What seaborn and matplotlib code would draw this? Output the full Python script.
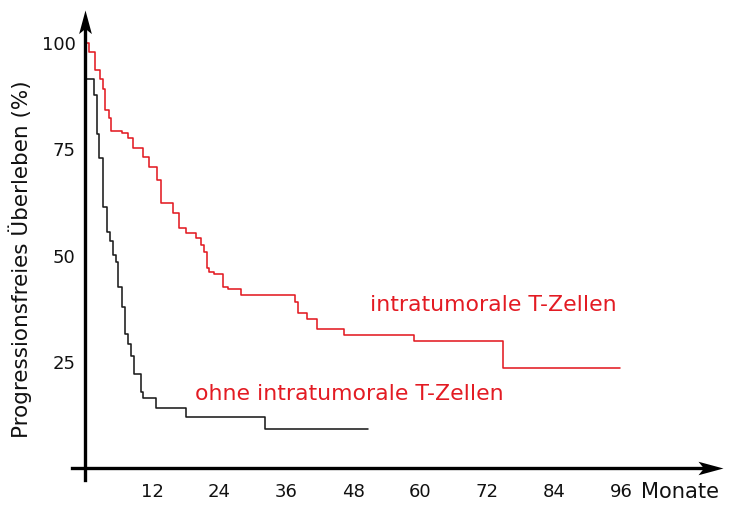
import matplotlib
matplotlib.use("Agg")
import matplotlib.pyplot as plt
import numpy as np
import pandas as pd
import seaborn as sns
from matplotlib.path import Path

# ---- data ----
red_months = [0, 0.55, 1.76, 2.65, 3.14, 3.55, 4.16, 4.63, 6.49, 7.57, 8.57, 10.26,
              11.44, 12.77, 13.48, 15.74, 16.82, 18.02, 19.81, 20.71, 21.30, 21.73,
              22.20, 23.09, 24.60, 25.60, 27.83, 37.56, 38.16, 39.77, 41.46, 46.35,
              58.9, 74.8]
red_survival = [100, 98.0, 93.6, 91.6, 89.1, 84.3, 82.4, 79.3, 78.8, 77.6, 75.3, 73.1,
                70.9, 67.8, 62.3, 60.0, 56.4, 55.3, 54.2, 52.5, 50.8, 47.0,
                46.2, 45.7, 42.7, 42.1, 40.7, 39.1, 36.4, 35.0, 32.7, 31.3,
                29.9, 23.5]
red_end = 95.8

black_months = [0, 0.14, 1.58, 2.06, 2.47, 3.08, 3.91, 4.39, 4.88, 5.47, 5.88, 6.60,
                7.08, 7.67, 8.16, 8.70, 9.90, 10.36, 12.59, 18.02, 32.19]
black_survival = [100, 91.6, 87.9, 78.5, 73.0, 61.5, 55.6, 53.4, 50.1, 48.6, 42.7, 37.8,
                  31.5, 29.2, 26.4, 22.1, 17.8, 16.4, 14.2, 12.1, 9.1]
black_end = 50.65

groups = ["intratumorale T-Zellen", "ohne intratumorale T-Zellen"]
x_ticks = [12, 24, 36, 48, 60, 72, 84, 96]
y_ticks = [25, 50, 75, 100]
x_unit = "Monate"
y_label = "Progressionsfreies Überleben (%)"

RED = "#e31b23"
BLACK = "#1c1c1c"

# ---- build table ----
df = pd.concat([
    pd.DataFrame({"Monate": red_months + [red_end],
                  "PFS": red_survival + [red_survival[-1]],
                  "Gruppe": groups[0]}),
    pd.DataFrame({"Monate": black_months + [black_end],
                  "PFS": black_survival + [black_survival[-1]],
                  "Gruppe": groups[1]}),
], ignore_index=True)

sns.set_style("white")
plt.rcParams["font.family"] = ["DejaVu Sans"]

fig = plt.figure(figsize=(7.31, 5.12), dpi=100)
ax = fig.add_axes([71.7 / 731, 32 / 512, 651.3 / 731, 470 / 512])

sns.lineplot(data=df, x="Monate", y="PFS", hue="Gruppe",
             palette={groups[0]: RED, groups[1]: BLACK},
             drawstyle="steps-post", estimator=None, legend=False,
             linewidth=1.15, ax=ax)

xmin, xmax = -2.47, 114.3
ymin, ymax = -2.82, 107.8
ax.set_xlim(xmin, xmax)
ax.set_ylim(ymin, ymax)

for s in ["top", "right"]:
    ax.spines[s].set_visible(False)
ax.spines["left"].set_position(("data", 0))
ax.spines["bottom"].set_position(("data", 0))
for s in ["left", "bottom"]:
    ax.spines[s].set_linewidth(2.4)
    ax.spines[s].set_color("black")
ax.spines["bottom"].set_bounds(xmin, 111.5)
ax.spines["left"].set_bounds(ymin, 104.5)

ax.set_xticks(x_ticks)
ax.set_yticks(y_ticks)
ax.set_xticklabels([str(t) for t in x_ticks])
ax.set_yticklabels([str(t) for t in y_ticks])
ax.tick_params(axis="both", direction="out", length=5.5, width=1.0,
               color="#333333", labelsize=13, labelcolor="#111111")
ax.tick_params(axis="x", pad=5)
ax.tick_params(axis="y", pad=1.5)
ax.set_xlabel("")
ax.set_ylabel("")

# arrowheads
arrow_r = Path([(0, 0), (-1, 0.27), (-0.78, 0), (-1, -0.27), (0, 0)],
               [Path.MOVETO, Path.LINETO, Path.LINETO, Path.LINETO, Path.CLOSEPOLY])
arrow_u = Path([(0, 0), (0.27, -1), (0, -0.78), (-0.27, -1), (0, 0)],
               [Path.MOVETO, Path.LINETO, Path.LINETO, Path.LINETO, Path.CLOSEPOLY])
ax.plot(1, 0, marker=arrow_r, markersize=36, color="black", mew=0,
        transform=ax.get_yaxis_transform(), clip_on=False)
ax.plot(0, 1, marker=arrow_u, markersize=34, color="black", mew=0,
        transform=ax.get_xaxis_transform(), clip_on=False)

# annotations
ax.text(51.0, 37.0, groups[0], color=RED, fontsize=15.8, ha="left", va="baseline")
ax.text(19.6, 16.0, groups[1], color=RED, fontsize=15.8, ha="left", va="baseline")
ax.text(99.6, -7.1, x_unit, color="#111111", fontsize=15.1, ha="left",
        va="baseline", clip_on=False)
fig.text(20 / 731, 1 - 259 / 512, y_label, rotation=90, ha="center",
         va="center", fontsize=15.5, color="#111111")

fig.savefig("out.png", dpi=100)
